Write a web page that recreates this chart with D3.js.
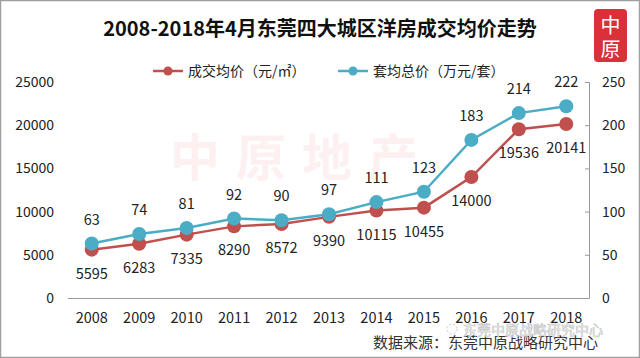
<!DOCTYPE html>
<html><head><meta charset="utf-8">
<script src="https://cdn.jsdelivr.net/npm/d3@7"></script>
<style>body{margin:0;background:#fff}svg{display:block}</style>
</head><body>
<svg id="c" width="640" height="358"></svg>
<script>
const years = ["2008","2009","2010","2011","2012","2013","2014","2015","2016","2017","2018"];
const avgPrice = [5595,6283,7335,8290,8572,9390,10115,10455,14000,19536,20141];
const totalPrice = [63,74,81,92,90,97,111,123,183,214,222];
const leftTicks = [0,5000,10000,15000,20000,25000];
const rightTicks = [0,50,100,150,200,250];
const title = "2008-2018年4月东莞四大城区洋房成交均价走势";
const seriesNames = ["成交均价（元/㎡）","套均总价（万元/套）"];
const source = "数据来源：东莞中原战略研究中心";

const F = "'Noto Sans CJK SC','Noto Sans',sans-serif";
const RED = "#c0504d", BLUE = "#4bacc6";
const svg = d3.select("#c");
svg.append("rect").attr("x",0.5).attr("y",0.5).attr("width",639).attr("height",357)
  .attr("fill","#fff").attr("stroke","#a0a0a0").attr("stroke-width",1.5);

const x = d3.scaleBand().domain(years).range([68,590]);
const yL = d3.scaleLinear().domain([0,25000]).range([298,82]);
const yR = d3.scaleLinear().domain([0,250]).range([298,82]);
const cx = d => x(d)+x.bandwidth()/2;

// faint watermark
svg.append("text").attr("x",170).attr("y",176).attr("font-family",F).attr("font-weight","bold")
  .attr("font-size",50).attr("fill","#fdf0f0").attr("letter-spacing",16).text("中原地产");

// title
svg.append("text").attr("x",320).attr("y",36).attr("text-anchor","middle").attr("font-family",F)
  .attr("font-weight","bold").attr("font-size",20).attr("fill","#111").text(title);

// logo
const lg = svg.append("g");
lg.append("rect").attr("x",594).attr("y",9).attr("width",33).attr("height",53).attr("rx",4).attr("fill","#d9303a");
lg.append("text").attr("x",610.5).attr("y",33).attr("text-anchor","middle").attr("font-family",F)
  .attr("font-size",20).attr("fill","#fff").text("中");
lg.append("text").attr("x",610.5).attr("y",57).attr("text-anchor","middle").attr("font-family",F)
  .attr("font-size",20).attr("fill","#fff").text("原");

// legend
const legend = [{n:seriesNames[0],c:RED,x:153},{n:seriesNames[1],c:BLUE,x:338}];
legend.forEach(l=>{
  svg.append("line").attr("x1",l.x).attr("x2",l.x+30).attr("y1",71).attr("y2",71).attr("stroke",l.c).attr("stroke-width",2.5);
  svg.append("circle").attr("cx",l.x+15).attr("cy",71).attr("r",4.5).attr("fill",l.c);
  svg.append("text").attr("x",l.x+35).attr("y",76).attr("font-family",F).attr("font-size",14).attr("fill","#222").text(l.n);
});

// left axis labels
svg.append("g").selectAll("text").data(leftTicks).join("text")
  .attr("x",54).attr("y",d=>yL(d)+5).attr("text-anchor","end").attr("font-family",F)
  .attr("font-size",14).attr("fill","#222").text(d=>d);

// right axis
const ra = svg.append("g").attr("transform","translate(589,0)")
  .call(d3.axisLeft(yR).tickValues(rightTicks).tickSize(4).tickFormat(""));
ra.selectAll("path,line").attr("stroke","#999");
svg.append("g").selectAll("text").data(rightTicks).join("text")
  .attr("x",602).attr("y",d=>yR(d)+5).attr("font-family",F)
  .attr("font-size",14).attr("fill","#222").text(d=>d);

// x axis
svg.append("line").attr("x1",68).attr("x2",589).attr("y1",298.5).attr("y2",298.5).attr("stroke","#999");
svg.append("g").selectAll("text").data(years).join("text")
  .attr("x",d=>cx(d)).attr("y",323).attr("text-anchor","middle").attr("font-family",F)
  .attr("font-size",14.5).attr("fill","#222").text(d=>d);

// lines
const redData = years.map((y,i)=>({y,v:avgPrice[i]}));
const blueData = years.map((y,i)=>({y,v:totalPrice[i]}));
svg.append("path").datum(redData).attr("fill","none").attr("stroke",RED).attr("stroke-width",2.5)
  .attr("d",d3.line().x(d=>cx(d.y)).y(d=>yL(d.v)));
svg.append("path").datum(blueData).attr("fill","none").attr("stroke",BLUE).attr("stroke-width",2.5)
  .attr("d",d3.line().x(d=>cx(d.y)).y(d=>yR(d.v)));
svg.append("g").selectAll("circle").data(redData).join("circle")
  .attr("cx",d=>cx(d.y)).attr("cy",d=>yL(d.v)).attr("r",7).attr("fill",RED);
svg.append("g").selectAll("circle").data(blueData).join("circle")
  .attr("cx",d=>cx(d.y)).attr("cy",d=>yR(d.v)).attr("r",7).attr("fill",BLUE);

// data labels
svg.append("g").selectAll("text").data(blueData).join("text")
  .attr("x",d=>cx(d.y)).attr("y",d=>yR(d.v)-19).attr("text-anchor","middle").attr("font-family",F)
  .attr("font-size",14.5).attr("fill","#222").text(d=>d.v);
svg.append("g").selectAll("text").data(redData).join("text")
  .attr("x",d=>cx(d.y)).attr("y",d=>yL(d.v)+29).attr("text-anchor","middle").attr("font-family",F)
  .attr("font-size",14.5).attr("fill","#222").text(d=>d.v);

// source
svg.append("text").attr("x",598).attr("y",348).attr("text-anchor","end").attr("font-family",F)
  .attr("font-size",15).attr("fill","#333").text(source);
// wechat watermark
svg.append("circle").attr("cx",452).attr("cy",329).attr("r",5).attr("fill","none").attr("stroke","#ccc").attr("stroke-dasharray","2,2");
svg.append("text").attr("x",463).attr("y",335).attr("font-family",F)
  .attr("font-size",14).attr("fill","#fff").attr("stroke","#bbb").attr("stroke-width",0.6)
  .attr("opacity",0.9).text("东莞中原战略研究中心");
</script>
</body></html>
